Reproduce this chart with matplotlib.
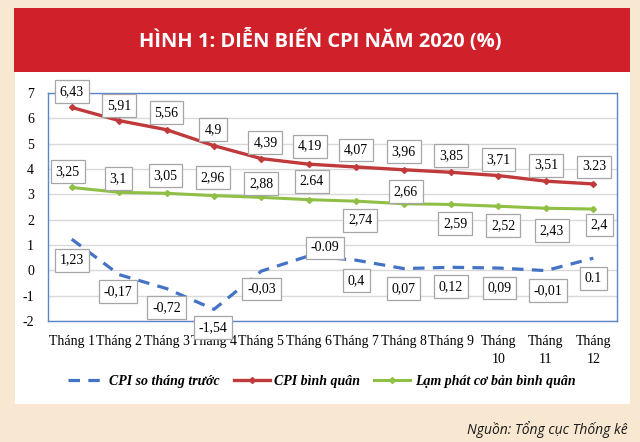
import matplotlib
matplotlib.use("Agg")
import matplotlib.pyplot as plt
from matplotlib.patches import Rectangle

# ---------------- data ----------------
months = ["Tháng 1", "Tháng 2", "Tháng 3", "Tháng 4", "Tháng 5", "Tháng 6",
          "Tháng 7", "Tháng 8", "Tháng 9", "Tháng\n10", "Tháng\n11", "Tháng\n12"]

cpi_mom = [1.23, -0.17, -0.72, -1.54, -0.03, 0.57, 0.40, 0.07, 0.12, 0.09, -0.01, 0.48]
cpi_mom_labels = ["1,23", "-0,17", "-0,72", "-1,54", "-0,03", "-0.09", "0,4", "0,07",
                  "0,12", "0,09", "-0,01", "0.1"]

cpi_avg = [6.43, 5.91, 5.55, 4.92, 4.41, 4.19, 4.08, 3.97, 3.87, 3.74, 3.52, 3.41]
cpi_avg_labels = ["6,43", "5,91", "5,56", "4,9", "4,39", "4,19", "4,07", "3,96",
                  "3,85", "3,71", "3,51", "3.23"]

core_avg = [3.27, 3.08, 3.04, 2.95, 2.88, 2.79, 2.73, 2.63, 2.60, 2.53, 2.45, 2.42]
core_avg_labels = ["3,25", "3,1", "3,05", "2,96", "2,88", "2.64", "2,74", "2,66",
                   "2,59", "2,52", "2,43", "2,4"]

yticks = [-2, -1, 0, 1, 2, 3, 4, 5, 6, 7]

series_names = ["CPI so tháng trước", "CPI bình quân", "Lạm phát cơ bản bình quân"]
title = "HÌNH 1: DIỄN BIẾN CPI NĂM 2020 (%)"
source = "Nguồn: Tổng cục Thống kê"

# ---------------- layout / style ----------------
W, H = 640, 442
BLUE = "#4472c4"
RED = "#c0393b"
GREEN = "#8fbf45"
SERIF = ["Liberation Serif", "DejaVu Serif"]
SANS = ["Open Sans", "Liberation Sans", "DejaVu Sans"]

# label offsets in pixels (dx, dy) relative to the point
off_mom = [(0, -21), (-1, -17), (0, -19), (-1, -18), (0, -18), (16, 8),
           (0, -20), (0, -20), (0, -19), (1, -20), (2, -20), (0, -20)]
off_avg = [(0, 16), (0, 15), (0, 17), (-1, 16), (4, 16), (1, 18),
           (0, 17), (0, 18), (0, 17), (0, 16), (0, 16), (1, 17)]
off_core = [(-4, 16), (-1, 14), (-1, 18), (-1, 18), (0, 14), (3, 18),
            (4, -19), (2, 12), (4, -19), (5, -19), (6, -22), (6, -16)]

fig = plt.figure(figsize=(W / 100, H / 100), dpi=100)
fig.patch.set_facecolor("#f9e8d1")

def px_rect(x0, y0, x1, y1, color):
    fig.patches.append(Rectangle((x0 / W, 1 - y1 / H), (x1 - x0) / W, (y1 - y0) / H,
                                 transform=fig.transFigure, facecolor=color,
                                 edgecolor="none", zorder=-10))

px_rect(15, 72, 630, 404, "white")
px_rect(14, 8, 630, 72, "#d0212b")

fig.text(320 / W, 1 - 41 / H, title, ha="center", va="center", color="white",
         fontsize=14.5, fontweight="bold", family=SANS)
fig.text(628 / W, 1 - 430 / H, source, ha="right", va="center", color="#1a1a1a",
         fontsize=10, style="italic", family=SANS)

ax = fig.add_axes([48 / W, 1 - 321 / H, (617 - 48) / W, (321 - 93) / H])
ax.set_facecolor("white")
x = list(range(len(months)))

l1, = ax.plot(x, cpi_mom, color=BLUE, lw=2.3, linestyle=(0, (3.6, 2.6)), zorder=3)
l2, = ax.plot(x, cpi_avg, color=RED, lw=2.4, marker="D", markersize=3, zorder=3)
l3, = ax.plot(x, core_avg, color=GREEN, lw=2.2, marker="D", markersize=3, zorder=3)

box = dict(boxstyle="square,pad=0.35", facecolor="white", edgecolor="#a6a6a6", lw=0.9)
for vals, labs, offs in [(cpi_mom, cpi_mom_labels, off_mom),
                         (cpi_avg, cpi_avg_labels, off_avg),
                         (core_avg, core_avg_labels, off_core)]:
    for xi, v, lab, (dx, dy) in zip(x, vals, labs, offs):
        ax.annotate(lab, (xi, v), xytext=(dx, dy), textcoords="offset pixels",
                    ha="center", va="center", fontsize=10, family=SERIF,
                    color="black", bbox=box, zorder=5, annotation_clip=False)

ax.set_xlim(-0.5, len(months) - 0.5)
ax.set_ylim(-2, 7)
ax.set_yticks(yticks)
ax.set_yticklabels([str(t) for t in yticks], family=SERIF, fontsize=10)
ax.set_xticks(x)
ax.set_xticklabels(months, family=SERIF, fontsize=10, linespacing=1.5)
ax.tick_params(axis="both", length=0)
ax.tick_params(axis="y", pad=10)
ax.tick_params(axis="x", pad=10)
ax.grid(axis="y", color="#d9d9d9", lw=1)
ax.set_axisbelow(True)
for s in ax.spines.values():
    s.set_color("#5b85c8")
    s.set_linewidth(1)

leg = fig.legend([l1, l2, l3], series_names, loc="center", ncol=3,
                 bbox_to_anchor=(322 / W, 1 - 381 / H), frameon=False,
                 prop=dict(family=SERIF, size=10, style="italic", weight="bold"),
                 handlelength=2.6, handletextpad=0.35, columnspacing=1.0)

fig.savefig("out.png", dpi=100, facecolor=fig.get_facecolor())
